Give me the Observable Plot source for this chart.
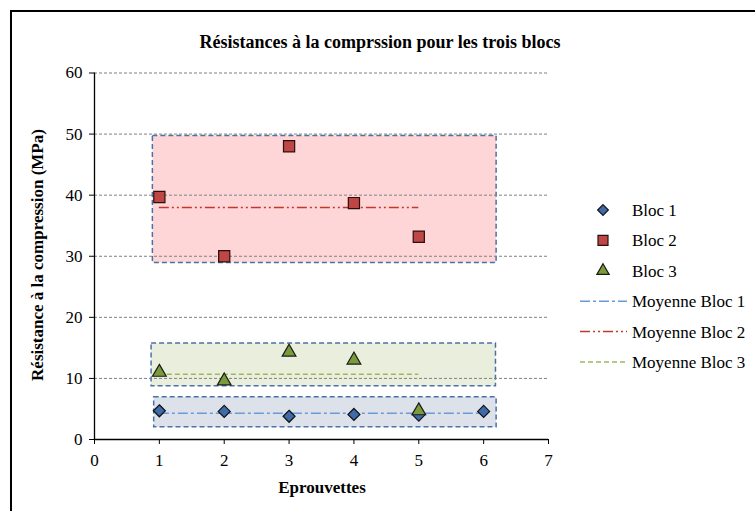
<!DOCTYPE html>
<html>
<head>
<meta charset="utf-8">
<script src="https://cdn.jsdelivr.net/npm/d3@7"></script>
<script src="https://cdn.jsdelivr.net/npm/@observablehq/plot@0.6"></script>
<style>
  html, body { margin: 0; padding: 0; background: #fff; }
  #wrap { position: relative; width: 755px; height: 511px; overflow: hidden; font-family: "Liberation Serif", "Times New Roman", serif; color: #000; }
  #frame { position: absolute; left: 10px; top: 10px; width: 900px; height: 700px; border: 2px solid #000; box-sizing: border-box; }
  #chart { position: absolute; left: 0; top: 0; }
  .title { position: absolute; left: 0; width: 760px; top: 42px; transform: translateY(-50%); text-align: center; font-weight: bold; font-size: 18px; white-space: nowrap; }
  .ylab { position: absolute; left: 38px; top: 255px; transform: translate(-50%, -50%) rotate(-90deg); white-space: nowrap; font-weight: bold; font-size: 17px; }
  .xlab { position: absolute; left: 322px; top: 488px; transform: translate(-50%, -50%); white-space: nowrap; font-weight: bold; font-size: 17px; }
  #legend { position: absolute; left: 570px; top: 190px; }
</style>
</head>
<body>
<div id="wrap">
  <div id="frame"></div>
  <div id="chart"></div>
  <div class="title">Résistances à la comprssion pour les trois blocs</div>
  <div class="ylab">Résistance à la compression (MPa)</div>
  <div class="xlab">Eprouvettes</div>
  <div id="legend"></div>
</div>
<script>
// ---- data ----
const blocs = ["Bloc 1", "Bloc 2", "Bloc 3"];
const meanNames = ["Moyenne Bloc 1", "Moyenne Bloc 2", "Moyenne Bloc 3"];
const eprouvettes1 = [1, 2, 3, 4, 5, 6];
const resistance1 = [4.7, 4.6, 3.8, 4.1, 4.0, 4.6];
const eprouvettes2 = [1, 2, 3, 4, 5];
const resistance2 = [39.7, 30.0, 48.0, 38.7, 33.2];
const eprouvettes3 = [1, 2, 3, 4, 5];
const resistance3 = [11.0, 9.6, 14.3, 13.0, 4.7];
const moyennes = [4.3, 38.0, 10.7];
const moyenneDebut = [1, 1, 1];
const moyenneFin = [6, 5, 5];
const zoneX1 = [0.92, 0.9, 0.88];
const zoneX2 = [6.2, 6.2, 6.19];
const zoneBas = [2.0, 28.9, 8.7];
const zoneHaut = [6.9, 49.7, 15.7];
const xTicks = [0, 1, 2, 3, 4, 5, 6, 7];
const yTicks = [0, 10, 20, 30, 40, 50, 60];

// ---- styles ----
const serif = "'Liberation Serif', 'Times New Roman', serif";
const symbolFill = ["#3f6ca8", "#be4644", "#7b9b3b"];
const symbolStroke = ["#111", "#2a0f0f", "#1a1a1a"];
const symbols = ["diamond2", "square", "triangle"];
const symbolR = [5.4, 6.3, 5.1];
const zoneFill = ["#dde2ea", "#ffd6d7", "#eaeedd"];
const meanStroke = ["#6a9ad8", "#c0392f", "#9bbb59"];
const meanDash = ["10,3,3,3", "10,3,2,3,2,3", "5,3"];

const series = [
  eprouvettes1.map((x, i) => ({x, y: resistance1[i], bloc: 0})),
  eprouvettes2.map((x, i) => ({x, y: resistance2[i], bloc: 1})),
  eprouvettes3.map((x, i) => ({x, y: resistance3[i], bloc: 2}))
];
const zones = blocs.map((b, i) => ({bloc: i, x1: zoneX1[i], x2: zoneX2[i], y1: zoneBas[i], y2: zoneHaut[i]}));
const means = blocs.map((b, i) => ({bloc: i, y: moyennes[i], x1: moyenneDebut[i], x2: moyenneFin[i]}));

const marks = [];
zones.forEach(z => {
  marks.push(Plot.rect([z], {x1: "x1", x2: "x2", y1: "y1", y2: "y2", fill: zoneFill[z.bloc], stroke: "#4a72a8", strokeWidth: 1.5, strokeDasharray: "5,3"}));
});
marks.push(Plot.ruleY(yTicks.filter(d => d > 0), {stroke: "#808080", strokeDasharray: "3,2", strokeWidth: 1}));
means.forEach(m => {
  marks.push(Plot.ruleY([m], {y: "y", x1: "x1", x2: "x2", stroke: meanStroke[m.bloc], strokeWidth: 1.5, strokeDasharray: meanDash[m.bloc]}));
});
series.forEach((s, i) => {
  marks.push(Plot.dot(s, {x: "x", y: "y", symbol: () => symbols[i], r: symbolR[i], fill: symbolFill[i], stroke: symbolStroke[i], strokeWidth: 1.2}));
});
marks.push(Plot.ruleX([0], {stroke: "#000", strokeWidth: 1.3}));
marks.push(Plot.ruleY([0], {stroke: "#000", strokeWidth: 1.3}));
marks.push(Plot.axisY({ticks: yTicks, tickSize: 5, tickPadding: 7, label: null, fontSize: 17, fontFamily: serif, stroke: "#000", tickFormat: d => d}));
marks.push(Plot.axisX({ticks: xTicks, tickSize: 5, tickPadding: 9, label: null, fontSize: 17, fontFamily: serif, stroke: "#000", tickFormat: d => d}));

const chart = Plot.plot({
  width: 755,
  height: 511,
  marginLeft: 94,
  marginRight: 207,
  marginTop: 72.5,
  marginBottom: 72,
  style: {fontFamily: serif, color: "#000", background: "transparent"},
  x: {domain: [0, 7]},
  y: {domain: [0, 60]},
  symbol: {type: "identity"},
  marks
});
chart.querySelectorAll("text").forEach(t => t.setAttribute("font-family", serif));
document.getElementById("chart").appendChild(chart);

// ---- legend ----
const rowH = 30.4;
const lg = d3.select("#legend").append("svg").attr("width", 185).attr("height", 190)
  .style("font-family", serif).style("font-size", "17px");
const symMap = {diamond2: d3.symbolDiamond2, square: d3.symbolSquare, triangle: d3.symbolTriangle};
blocs.forEach((b, i) => {
  const g = lg.append("g").attr("transform", `translate(0,${20 + i * rowH})`);
  g.append("path").attr("transform", "translate(33,0)")
    .attr("d", d3.symbol(symMap[symbols[i]], Math.PI * symbolR[i] * symbolR[i] * 0.8)())
    .attr("fill", symbolFill[i]).attr("stroke", symbolStroke[i]).attr("stroke-width", 1.2);
  g.append("text").attr("x", 62).attr("dy", "0.35em").text(b);
});
meanNames.forEach((b, i) => {
  const g = lg.append("g").attr("transform", `translate(0,${20 + (i + 3) * rowH})`);
  g.append("line").attr("x1", 10).attr("x2", 57).attr("stroke", meanStroke[i]).attr("stroke-width", 1.5).attr("stroke-dasharray", meanDash[i]);
  g.append("text").attr("x", 62).attr("dy", "0.35em").text(b);
});
</script>
</body>
</html>
